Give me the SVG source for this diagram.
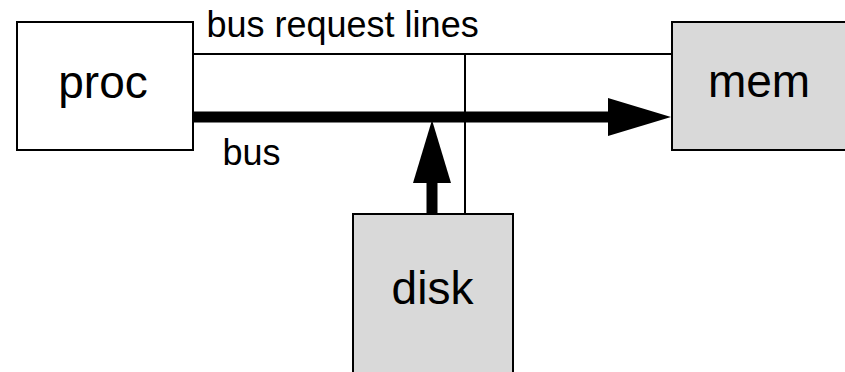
<svg xmlns="http://www.w3.org/2000/svg" width="845" height="372" viewBox="0 0 845 372">
<style>
.box{stroke:#000;stroke-width:2}
.w{fill:#fff}
.g{fill:#d9d9d9}
.nt{font-family:"Liberation Sans",Arial,sans-serif;font-size:46px;fill:#000;text-anchor:middle}
.lt{font-family:"Liberation Sans",Arial,sans-serif;font-size:36px;fill:#000}
.thin{stroke:#000;stroke-width:2;fill:none}
.thick{stroke:#000;stroke-width:11;fill:none}
</style>
<rect width="845" height="372" fill="#fff"/>
<g id="connectors">
<polyline class="thin" points="193,54 672,54"/>
<line class="thin" x1="465" y1="54" x2="465" y2="214"/>
<line class="thick" x1="193" y1="117" x2="610" y2="117"/>
<polygon points="608,98 671,117 608,136" fill="#000"/>
<line class="thick" x1="432" y1="214" x2="432" y2="181"/>
<polygon points="413,183 432,120 451,183" fill="#000"/>
<text class="lt" x="206.5" y="37">bus request lines</text>
<text class="lt" x="222.5" y="165">bus</text>
</g>
<g id="proc">
<rect class="box w" x="17" y="22" width="176" height="128"/>
<text class="nt" x="103" y="98">proc</text>
</g>
<g id="mem">
<rect class="box g" x="672" y="22" width="190" height="128"/>
<text class="nt" x="759" y="97">mem</text>
</g>
<g id="disk">
<rect class="box g" x="353" y="214" width="160" height="170"/>
<text class="nt" x="432.5" y="304">disk</text>
</g>
</svg>
